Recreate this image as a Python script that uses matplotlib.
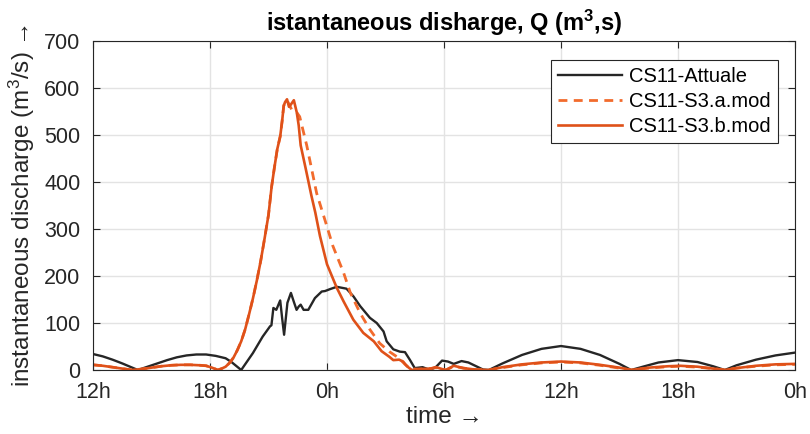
import numpy as np
import matplotlib
matplotlib.use('Agg')
import matplotlib.pyplot as plt

plt.rcParams['font.family'] = ['Liberation Sans', 'DejaVu Sans']
plt.rcParams['mathtext.fontset'] = 'custom'
plt.rcParams['mathtext.rm'] = 'Liberation Sans'
plt.rcParams['mathtext.it'] = 'Liberation Sans:italic'
plt.rcParams['mathtext.bf'] = 'Liberation Sans:bold'

# time in hours from 12h of the first day
t_att = [0, 0.5, 1.0, 1.5, 1.9, 2.3, 2.8, 3.3, 3.8, 4.3, 4.8, 5.3, 5.8, 6.3, 6.8, 7.1, 7.6,
         8.2, 8.7, 9.08, 9.15, 9.25, 9.4, 9.6, 9.7, 9.8, 9.97, 10.15, 10.3, 10.44, 10.55,
         10.65, 10.8, 11.04, 11.38, 11.73, 11.9, 12.15, 12.5, 13.0, 13.35, 13.7, 14.2,
         14.55, 14.9, 15.06, 15.4, 15.74, 16.0, 16.26, 16.5, 16.9, 17.3, 17.6, 17.9, 18.2,
         18.5, 18.9, 19.25, 19.7, 20.0, 20.3, 21, 22, 23, 24, 25, 26, 27, 27.6,
         28.2, 29, 30, 31, 31.8, 32.4, 33, 34, 35, 36]
q_att = [34, 29, 22, 14, 7, 0, 7, 14, 21, 27, 31, 33, 33, 30, 25, 17, 0,
         36, 71, 93, 95, 132, 128, 148, 110, 75, 143, 164, 145, 128, 135,
         139, 128, 128, 153, 167, 168, 172, 177, 173, 157, 136, 111,
         100, 82, 61, 44, 39, 38, 21, 4, 6, 0, 7, 20, 18,
         13, 19, 16, 7, 1, 0, 14, 32, 45, 51, 45, 32, 13, 0,
         7, 16, 21, 17, 8, 0, 10, 22, 31, 37]

t_b = [0, 0.5, 1.0, 1.5, 2.0, 2.5, 3.0, 3.5, 4.0, 4.5, 5.0, 5.5, 5.8, 6.1, 6.4, 6.6, 6.8,
       7.0, 7.2, 7.4, 7.6, 7.8, 8.0, 8.2, 8.4, 8.6, 8.8, 9.0, 9.16, 9.3, 9.45, 9.6, 9.7,
       9.78, 9.85, 9.95, 10.05, 10.15, 10.3, 10.45, 10.55, 10.65, 10.9, 11.2, 11.4, 11.64,
       12.0, 12.5, 12.85, 13.35, 13.86, 14.4, 14.8, 15.2, 15.4, 15.7, 15.9, 16.1, 16.35,
       16.8, 17.3, 17.6, 17.9, 18.1, 18.5, 19.0, 19.6, 20.3, 21, 22, 23, 24, 25, 26, 27,
       27.6, 28.5, 29.5, 30.1, 31, 31.8, 32.4, 33, 34, 35, 36]
q_b = [11, 9, 6, 3, 0, 2, 5, 8, 10, 11, 11, 10, 9, 5, 0, 3, 7,
       15, 26, 42, 61, 86, 118, 152, 190, 232, 280, 330, 390, 430, 470, 497, 530,
       562, 570, 576, 560, 565, 574, 548, 520, 478, 430, 371, 335, 285,
       225, 175, 146, 107, 79, 61, 40, 28, 21, 22, 18, 8, 0,
       2, 3, 6, 2, 0, 9, 4, 1, 0, 6, 12, 16, 18, 16, 11, 5,
       0, 5, 8, 9, 7, 3, 0, 4, 9, 12, 13]

t_a = [0, 0.5, 1.0, 1.5, 2.0, 2.5, 3.0, 3.5, 4.0, 4.5, 5.0, 5.5, 5.8, 6.1, 6.4, 6.6, 6.8,
       7.0, 7.2, 7.4, 7.6, 7.8, 8.0, 8.2, 8.4, 8.6, 8.8, 9.0, 9.16, 9.3, 9.45, 9.6, 9.7,
       9.78, 9.85, 9.95, 10.2, 10.45, 10.6, 10.96, 11.47, 12.0, 12.3, 12.85, 13.2, 13.7,
       14.2, 14.7, 15.2, 15.7, 16.0, 16.3, 16.8, 17.3, 17.6, 17.9, 18.1, 18.5, 19.0,
       19.6, 20.3, 21, 22, 23, 24, 25, 26, 27, 27.6, 28.5, 29.5, 30.1, 31, 31.8, 32.4,
       33, 34, 35, 36]
q_a = [11, 9, 6, 3, 0, 2, 5, 8, 10, 11, 11, 10, 9, 5, 0, 3, 7,
       15, 26, 42, 61, 86, 118, 152, 190, 232, 280, 330, 390, 430, 470, 497, 530,
       562, 570, 574, 553, 548, 539, 478, 376, 305, 264, 207, 164, 121,
       86, 57, 39, 25, 12, 2, 2, 3, 5, 2, 0, 8, 4,
       1, 0, 5, 11, 15, 17, 15, 10, 4, 0, 4, 7, 8, 6, 3, 0,
       4, 8, 11, 12]

xticks = [0, 6, 12, 18, 24, 30, 36]
xticklabels = ['12h', '18h', '0h', '6h', '12h', '18h', '0h']
yticks = [0, 100, 200, 300, 400, 500, 600, 700]

fig = plt.figure(figsize=(8.1, 4.34), dpi=100)
ax = fig.add_axes([93/810, 1-370/434, 702/810, 329/434])

ax.plot(t_att, q_att, color='#262626', lw=1.7, label='CS11-Attuale')
ax.plot(t_a, q_a, color='#F26B2D', lw=2.0, ls=(0, (3.2, 2.3)), label='CS11-S3.a.mod')
ax.plot(t_b, q_b, color='#DF5119', lw=1.9, label='CS11-S3.b.mod')

ax.set_xlim(0, 36)
ax.set_ylim(0, 700)
ax.set_xticks(xticks)
ax.set_xticklabels(xticklabels)
ax.set_yticks(yticks)
ax.grid(True, color='#e3e3e3', lw=1)
ax.set_axisbelow(True)
ax.tick_params(direction='in', top=True, right=True, length=5, width=0.8,
               labelsize=15.5, colors='#262626', pad=9)
for s in ax.spines.values():
    s.set_color('#262626')
    s.set_linewidth(0.8)

ax.set_title(r'istantaneous disharge, Q ($\mathbf{m^3}$,s)', fontsize=17, fontweight='bold',
             pad=7)
ax.set_ylabel('instantaneous discharge (m$^3$/s) →', fontsize=17.5, labelpad=5,
              color='#262626')
ax.set_xlabel('time →', fontsize=17.5, labelpad=2, color='#262626')

leg = ax.legend(loc='upper right', bbox_to_anchor=(0.9758, 0.942), borderaxespad=0,
                fontsize=14.5, fancybox=False, framealpha=1, edgecolor='#262626',
                handlelength=3.2, handletextpad=0.35, labelspacing=0.3,
                borderpad=0.35)
leg.get_frame().set_linewidth(0.8)

fig.savefig('out.png', dpi=100)
